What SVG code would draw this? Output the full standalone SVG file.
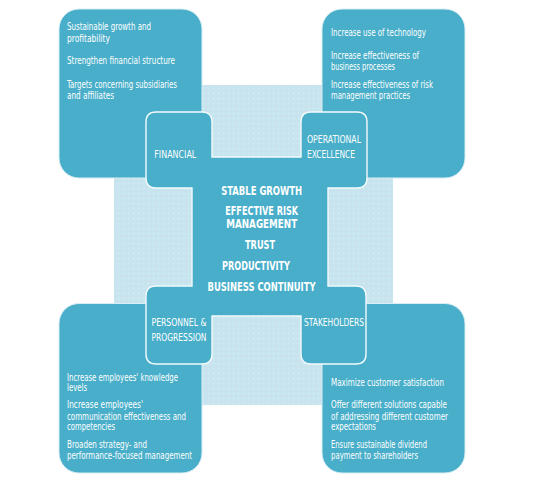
<svg xmlns="http://www.w3.org/2000/svg" width="536" height="477" viewBox="0 0 536 477">
<defs>
<pattern id="dots" width="5" height="5" patternUnits="userSpaceOnUse">
<rect width="5" height="5" fill="#c6e5ee"/>
<circle cx="1.2" cy="1.2" r="0.6" fill="#e2d2ea"/>
<circle cx="3.7" cy="3.6" r="0.5" fill="#e6f4f8"/>
</pattern>
<style>
.big{fill:#48aec9;stroke:#d8eef4;stroke-width:1}
.core{fill:#48aec9;stroke:#f2fafc;stroke-width:1.4}
.t{font-family:"Liberation Sans Narrow","DejaVu Sans Condensed","Liberation Sans",sans-serif;font-size:9.6px;fill:#ffffff}
.lab{font-family:"Liberation Sans Narrow","DejaVu Sans Condensed","Liberation Sans",sans-serif;font-size:10.6px;fill:#ffffff}
.c{font-family:"Liberation Sans Narrow","DejaVu Sans Condensed","Liberation Sans",sans-serif;font-size:12px;font-weight:bold;fill:#ffffff;text-anchor:middle}
</style>
</defs>
<rect width="536" height="477" fill="#ffffff"/>
<rect id="background" x="114" y="85" width="279" height="320" fill="url(#dots)"/>

<g id="financial">
<rect class="big" x="59" y="9" width="143" height="169" rx="20"/>
<text class="t" x="67" y="30" textLength="84" lengthAdjust="spacingAndGlyphs">Sustainable growth and</text>
<text class="t" x="67" y="41.5" textLength="43" lengthAdjust="spacingAndGlyphs">profitability</text>
<text class="t" x="67" y="64" textLength="108" lengthAdjust="spacingAndGlyphs">Strengthen financial structure</text>
<text class="t" x="67" y="87.5" textLength="110" lengthAdjust="spacingAndGlyphs">Targets concerning subsidiaries</text>
<text class="t" x="67" y="99" textLength="47" lengthAdjust="spacingAndGlyphs">and affiliates</text>
</g>

<g id="operational-excellence">
<rect class="big" x="322" y="9" width="143" height="169" rx="20"/>
<text class="t" x="331" y="36" textLength="95" lengthAdjust="spacingAndGlyphs">Increase use of technology</text>
<text class="t" x="331" y="58.5" textLength="88" lengthAdjust="spacingAndGlyphs">Increase effectiveness of</text>
<text class="t" x="331" y="70" textLength="64" lengthAdjust="spacingAndGlyphs">business processes</text>
<text class="t" x="331" y="87.5" textLength="102" lengthAdjust="spacingAndGlyphs">Increase effectiveness of risk</text>
<text class="t" x="331" y="99" textLength="79" lengthAdjust="spacingAndGlyphs">management practices</text>
</g>

<g id="personnel-progression">
<rect class="big" x="59" y="303.5" width="143" height="169.5" rx="20"/>
<text class="t" x="67" y="380.5" textLength="111" lengthAdjust="spacingAndGlyphs">Increase employees' knowledge</text>
<text class="t" x="67" y="391" textLength="20" lengthAdjust="spacingAndGlyphs">levels</text>
<text class="t" x="67" y="408" textLength="76" lengthAdjust="spacingAndGlyphs">Increase employees'</text>
<text class="t" x="67" y="419.5" textLength="119" lengthAdjust="spacingAndGlyphs">communication effectiveness and</text>
<text class="t" x="67" y="430" textLength="48" lengthAdjust="spacingAndGlyphs">competencies</text>
<text class="t" x="67" y="448" textLength="80" lengthAdjust="spacingAndGlyphs">Broaden strategy- and</text>
<text class="t" x="67" y="458.5" textLength="125" lengthAdjust="spacingAndGlyphs">performance-focused management</text>
</g>

<g id="stakeholders">
<rect class="big" x="322" y="303.5" width="143" height="169.5" rx="20"/>
<text class="t" x="331" y="385.5" textLength="113" lengthAdjust="spacingAndGlyphs">Maximize customer satisfaction</text>
<text class="t" x="331" y="408" textLength="116" lengthAdjust="spacingAndGlyphs">Offer different solutions capable</text>
<text class="t" x="331" y="419.5" textLength="117" lengthAdjust="spacingAndGlyphs">of addressing different customer</text>
<text class="t" x="331" y="430" textLength="45" lengthAdjust="spacingAndGlyphs">expectations</text>
<text class="t" x="331" y="448" textLength="96" lengthAdjust="spacingAndGlyphs">Ensure sustainable dividend</text>
<text class="t" x="331" y="459" textLength="87" lengthAdjust="spacingAndGlyphs">payment to shareholders</text>
</g>

<g id="core">
<path class="core" d="M146,122 Q146,112 156,112 H202 Q212,112 212,122 V157 H301 V122 Q301,112 311,112 H357 Q367,112 367,122 V178 Q367,188 357,188 H328 V286 H356 Q366,286 366,296 V354 Q366,364 356,364 H311 Q301,364 301,354 V316 H212 V354 Q212,364 202,364 H156 Q146,364 146,354 V296 Q146,286 156,286 H192 V188 H156 Q146,188 146,178 Z"/>
<text class="c" x="261.7" y="195" textLength="81" lengthAdjust="spacingAndGlyphs">STABLE GROWTH</text>
<text class="c" x="261.7" y="215" textLength="73" lengthAdjust="spacingAndGlyphs">EFFECTIVE RISK</text>
<text class="c" x="261.7" y="228.3" textLength="71" lengthAdjust="spacingAndGlyphs">MANAGEMENT</text>
<text class="c" x="260" y="249" textLength="30" lengthAdjust="spacingAndGlyphs">TRUST</text>
<text class="c" x="256" y="270" textLength="68" lengthAdjust="spacingAndGlyphs">PRODUCTIVITY</text>
<text class="c" x="261.5" y="290.7" textLength="108" lengthAdjust="spacingAndGlyphs">BUSINESS CONTINUITY</text>
</g>

<g id="labels">
<text class="lab" x="154.3" y="157.5" textLength="42" lengthAdjust="spacingAndGlyphs">FINANCIAL</text>
<text class="lab" x="307" y="143" textLength="54" lengthAdjust="spacingAndGlyphs">OPERATIONAL</text>
<text class="lab" x="307" y="157.5" textLength="48" lengthAdjust="spacingAndGlyphs">EXCELLENCE</text>
<text class="lab" x="151.5" y="326" textLength="55" lengthAdjust="spacingAndGlyphs">PERSONNEL &amp;</text>
<text class="lab" x="151.5" y="340.5" textLength="55" lengthAdjust="spacingAndGlyphs">PROGRESSION</text>
<text class="lab" x="304" y="325.5" textLength="60" lengthAdjust="spacingAndGlyphs">STAKEHOLDERS</text>
</g>

<g id="connectors"></g>
</svg>
